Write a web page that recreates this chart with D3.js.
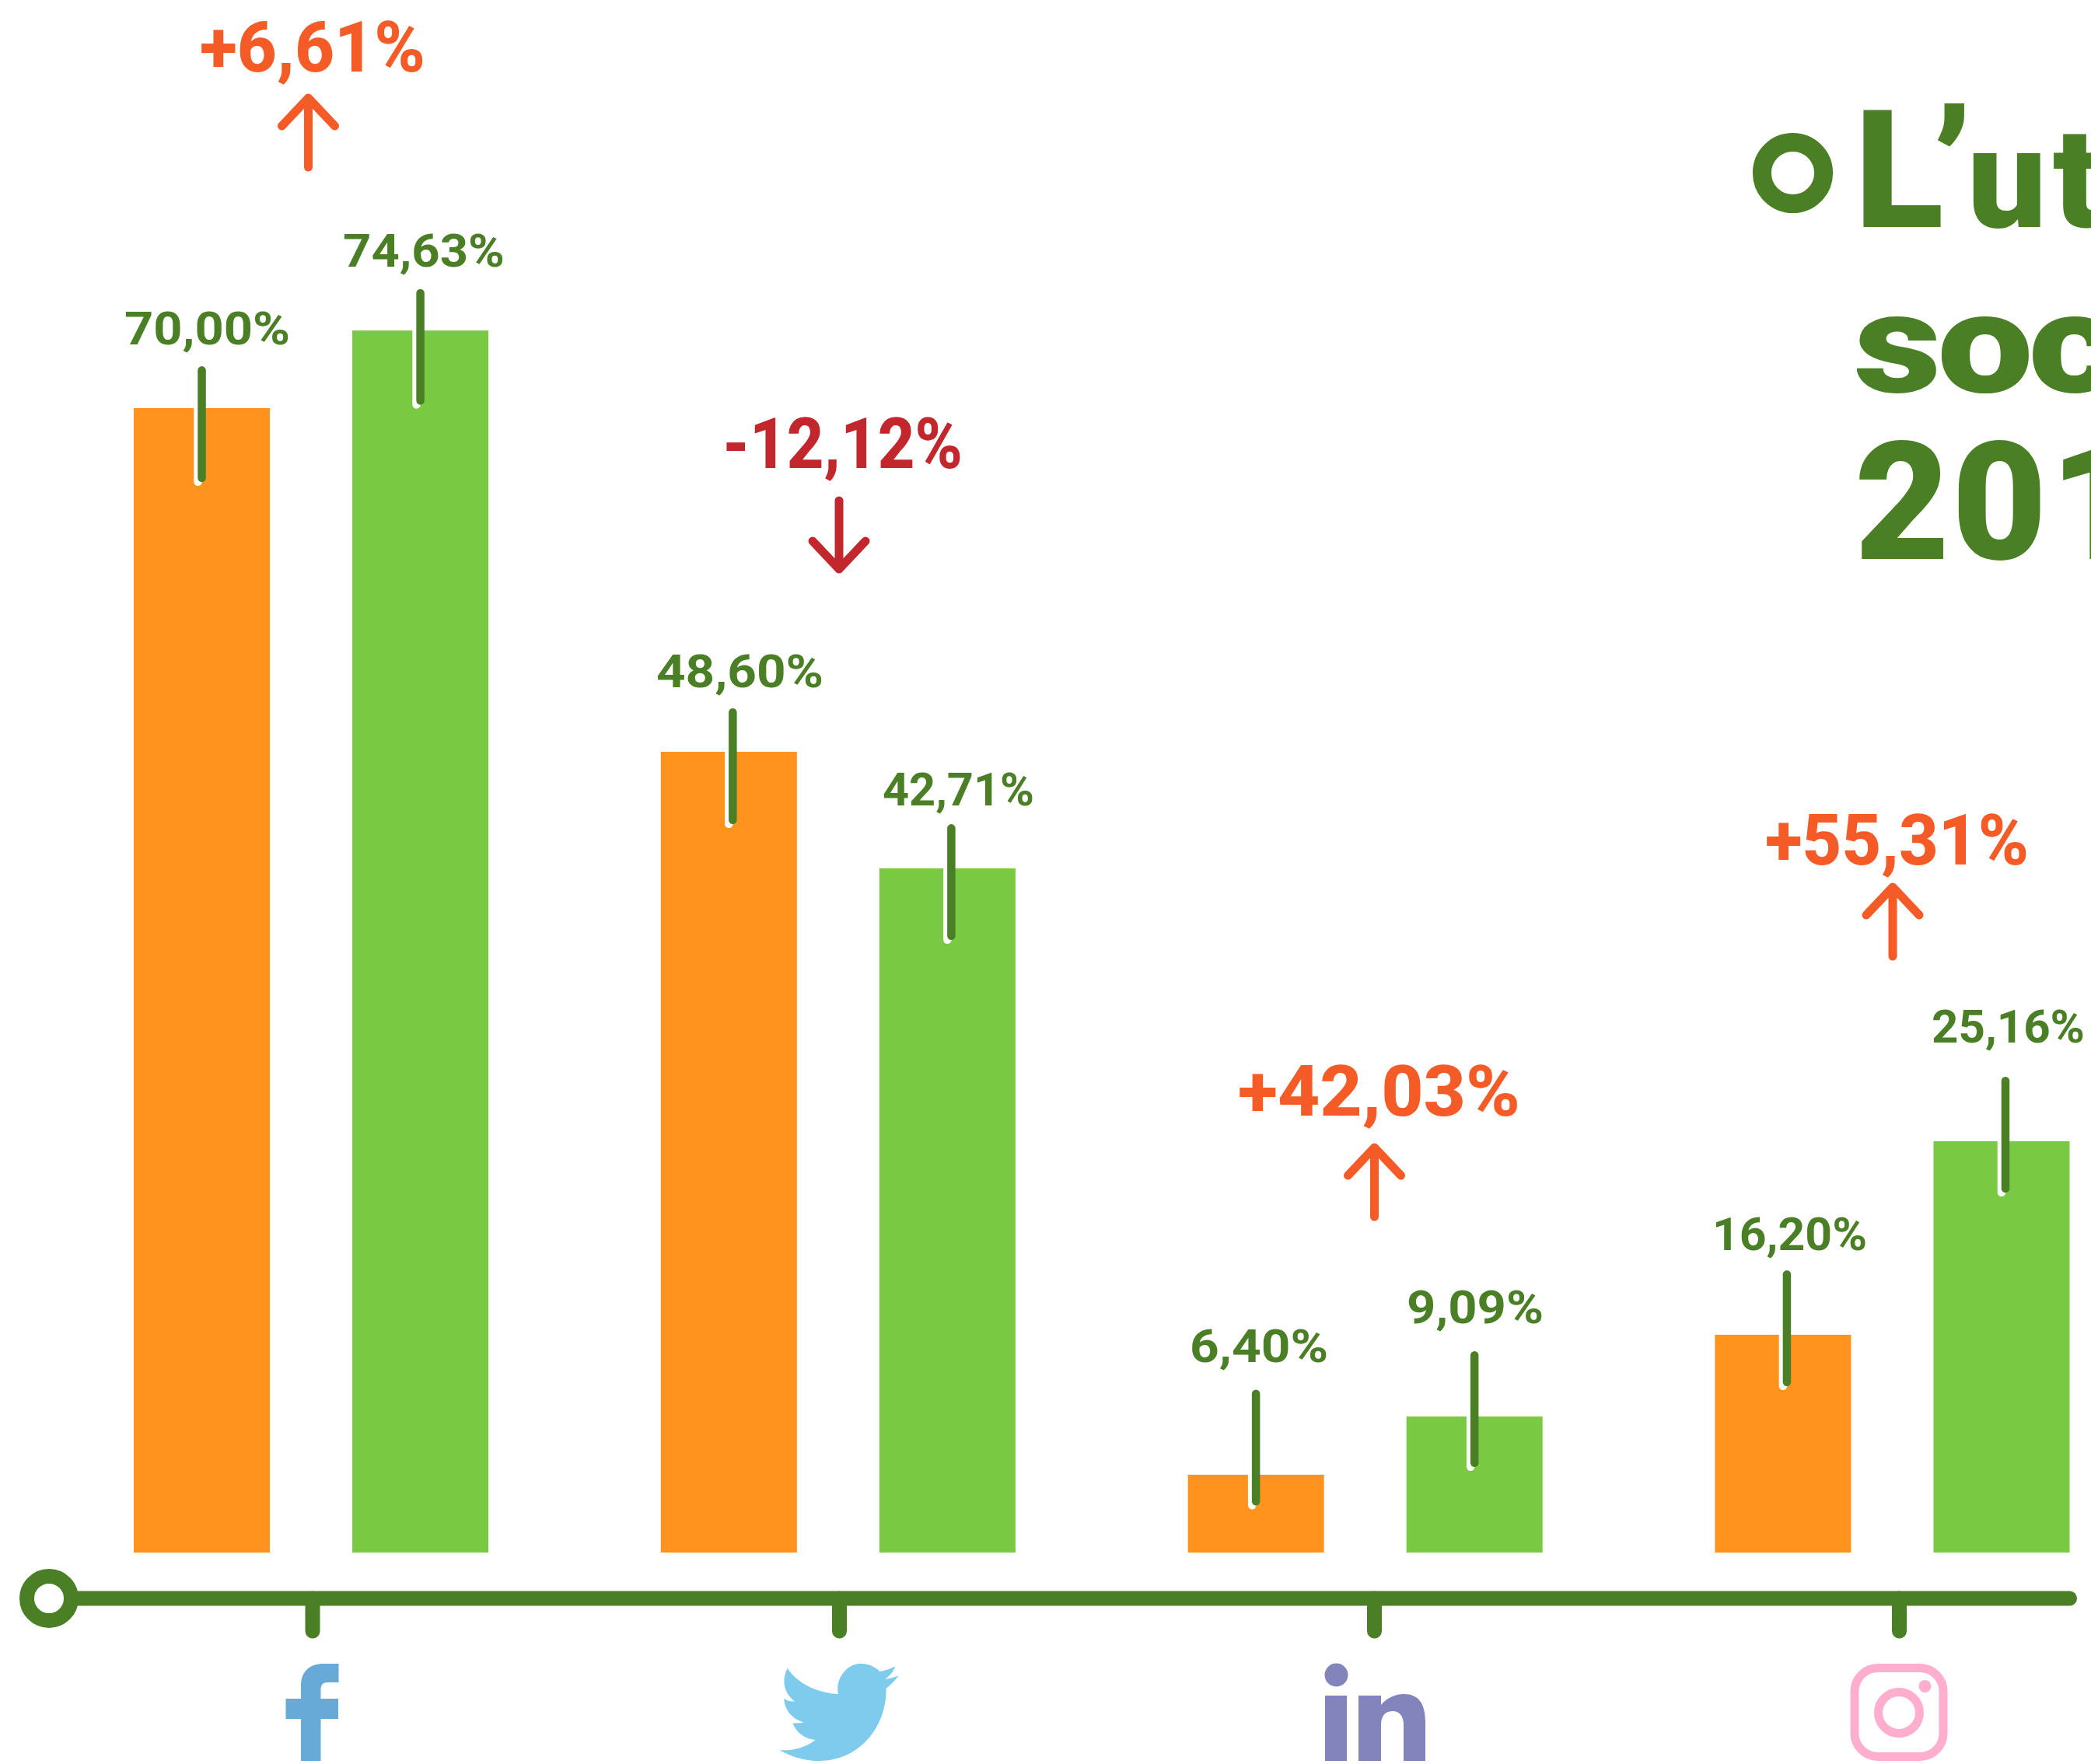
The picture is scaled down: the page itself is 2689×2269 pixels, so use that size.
<!DOCTYPE html>
<html><head><meta charset="utf-8">
<style>html,body{margin:0;padding:0;background:#fff}svg{display:block}text{font-family:Roboto,sans-serif}</style>
<script src="https://cdn.jsdelivr.net/npm/d3@7/dist/d3.min.js"></script>
</head><body><svg id="c" width="2689" height="2269"></svg>
<script>
// ---- data ----
const platforms = ["Facebook", "Twitter", "LinkedIn", "Instagram"];
const seriesNames = ["first", "second"];
// printed values
const printedFirst = [70.00, 48.60, 6.40, 16.20];
const printedSecond = [74.63, 42.71, 9.09, 25.16];
const evolution = [6.61, -12.12, 42.03, 55.31];
// bar heights as drawn in the reference, on the scale fixed by the 70% bar
// (the reference's short bars are not drawn exactly to their printed values)
const barFirst = [70.00, 48.98, 4.76, 13.32];
const barSecond = [74.75, 41.85, 8.32, 25.16];
// level of the middle of each leader line, same units
const leaderFirst = [69.02, 48.10, 6.42, 13.72];
const leaderSecond = [73.75, 41.01, 8.77, 25.56];
const titleLines = ["L’ut", "soc", "201"];

// ---- layout ----
const W = 2689, H = 2269, baseY = 1997, axisY = 2056;
const C = {axis:"#4B7F26", first:"#FF931E", second:"#7AC943", up:"#F45B27", down:"#C1272D",
           fb:"#67A9D7", tw:"#7FCBEE", li:"#8484BD", ig:"#FFAECE"};
const leaderNudge = [[0,0],[5,5],[0,0],[5,5]];
const labelBox = [[[162,371,443],[443,647,343]],[[846,1057,884],[1137,1328,1036]],
                  [[1532,1706,1752],[1811,1983,1702]],[[2204,2399,1608],[2486,2679,1341]]];
const deltaBox = [[261,543,92],[933,1234,602],[1596,1951,1435],[2274,2605,1112]];
const arrowPos = [[396.5,120],[1079,638],[1767.5,1470],[2434,1135]];
const tickX = [401.5,1079,1767,2442];

const svg = d3.select("#c");
const fr = d3.formatLocale({decimal:",",thousands:" ",grouping:[3],currency:["","€"],minus:"-"});
const pct = fr.format(".2f"), signed = fr.format("+.2f");

const y = d3.scaleLinear().domain([0,70]).range([baseY,525]);
const x0 = d3.scaleBand().domain(platforms).range([172,2661.5]).paddingInner(0.3271);
const x1 = d3.scaleBand().domain(seriesNames).range([0,x0.bandwidth()]).paddingInner(0.3772);
const tickScale = d3.scaleOrdinal().domain(platforms).range(tickX);

const rows = platforms.flatMap((p,i)=>[
  {p,i,s:0,name:seriesNames[0],bar:barFirst[i],lead:leaderFirst[i],val:printedFirst[i]},
  {p,i,s:1,name:seriesNames[1],bar:barSecond[i],lead:leaderSecond[i],val:printedSecond[i]}]);

// bars
svg.append("g").selectAll("rect").data(rows).join("rect")
  .attr("x",d=>x0(d.p)+x1(d.name)).attr("width",x1.bandwidth())
  .attr("y",d=>y(d.bar)).attr("height",d=>baseY-y(d.bar))
  .attr("fill",d=>d.s?C.second:C.first);

// leader lines with their white offset twin
const LEN = 138.5;
const cx = d=>x0(d.p)+x1(d.name)+x1.bandwidth()/2+leaderNudge[d.i][d.s];
svg.append("g").selectAll("line").data(rows).join("line")
  .attr("x1",d=>cx(d)-5).attr("x2",d=>cx(d)-5)
  .attr("y1",d=>y(d.lead)-LEN/2+5).attr("y2",d=>y(d.lead)+LEN/2+5)
  .attr("stroke","#fff").attr("stroke-width",10.5).attr("stroke-linecap","round");
svg.append("g").selectAll("line").data(rows).join("line")
  .attr("x1",cx).attr("x2",cx)
  .attr("y1",d=>y(d.lead)-LEN/2).attr("y2",d=>y(d.lead)+LEN/2)
  .attr("stroke",C.axis).attr("stroke-width",10.5).attr("stroke-linecap","round");

// value labels
svg.append("g").selectAll("text").data(rows).join("text")
  .text(d=>pct(d.val)+"%")
  .attr("x",d=>labelBox[d.i][d.s][0]-2).attr("y",d=>labelBox[d.i][d.s][2])
  .attr("textLength",d=>labelBox[d.i][d.s][1]-labelBox[d.i][d.s][0]+4)
  .attr("lengthAdjust","spacingAndGlyphs")
  .attr("font-size",59).attr("font-weight",700).attr("fill",C.axis);

// evolution labels and arrows
svg.append("g").selectAll("text").data(evolution).join("text")
  .text(d=>signed(d)+"%")
  .attr("x",(d,i)=>deltaBox[i][0]-4).attr("y",(d,i)=>deltaBox[i][2])
  .attr("textLength",(d,i)=>deltaBox[i][1]-deltaBox[i][0]+8)
  .attr("lengthAdjust","spacingAndGlyphs")
  .attr("font-size",90).attr("font-weight",800)
  .attr("fill",d=>d<0?C.down:C.up);
const arrowUp = "M0,6V95M-34,42L0,6L34,42";
const arrowDown = "M0,6V94M-34,58L0,94L34,58";
svg.append("g").selectAll("path").data(evolution).join("path")
  .attr("d",d=>d<0?arrowDown:arrowUp)
  .attr("transform",(d,i)=>`translate(${arrowPos[i][0]},${arrowPos[i][1]})`)
  .attr("fill","none").attr("stroke",d=>d<0?C.down:C.up)
  .attr("stroke-width",11).attr("stroke-linecap","round").attr("stroke-linejoin","round");

// axis
svg.append("line").attr("x1",62).attr("x2",2661.5).attr("y1",axisY).attr("y2",axisY)
  .attr("stroke",C.axis).attr("stroke-width",19).attr("stroke-linecap","round");
const axisG = svg.append("g").attr("transform",`translate(0,${axisY})`)
  .call(d3.axisBottom(tickScale).tickSize(42).tickFormat(""));
axisG.select(".domain").remove();
axisG.selectAll("line").attr("stroke",C.axis).attr("stroke-width",19).attr("stroke-linecap","round");
svg.append("circle").attr("cx",63).attr("cy",axisY).attr("r",28.5)
  .attr("fill","#fff").attr("stroke",C.axis).attr("stroke-width",19);

// icons, origin = tick x, top of the icon row
const iconG = svg.append("g").selectAll("g").data(platforms).join("g")
  .attr("transform",p=>`translate(${tickScale(p)},2140)`);
iconG.filter(p=>p==="Facebook").append("path").attr("fill",C.fb)
  .attr("d","M-14.5,125V71H-34V45H-14.5V28C-14.5,10-3,0,15,0H34V24H20C13,24,11,28,11,34V45H33.5V71H11V125Z");
iconG.filter(p=>p==="Twitter").append("path").attr("fill",C.tw)
  .attr("transform","translate(-88.7,-10) scale(0.3333)")
  .attr("d","M483,40C465,50,445,57,423,60C405,40,375,28,345,30C295,32,250,90,263,148C180,140,110,110,67,48C45,90,50,140,95,176C80,176,65,172,54,164C54,205,85,245,130,256C115,260,100,260,87,259C100,295,135,322,175,324C140,352,90,368,37,363C85,392,140,405,190,405C340,405,450,280,448,125C465,112,482,96,496,76C478,84,460,88,443,90C462,78,477,60,483,40Z");
const li = iconG.filter(p=>p==="LinkedIn").append("g").attr("fill",C.li);
li.append("circle").attr("cx",-48.5).attr("cy",14.5).attr("r",15);
li.append("path").attr("d","M-63,41H-35V125H-63Z");
li.append("path").attr("d","M-20,125V41H9V53C15,45,27,39,38,39C58,39,66,52,66,75V125H38V78C38,68,33,61,24,61C14,61,9,68,9,78V125Z");
const ig = iconG.filter(p=>p==="Instagram").append("g");
ig.append("rect").attr("x",-57).attr("y",5.5).attr("width",114).attr("height",114).attr("rx",30)
  .attr("fill","none").attr("stroke",C.ig).attr("stroke-width",11);
ig.append("circle").attr("cx",0).attr("cy",63).attr("r",26.5)
  .attr("fill","none").attr("stroke",C.ig).attr("stroke-width",11);
ig.append("circle").attr("cx",33.5).attr("cy",29).attr("r",8).attr("fill",C.ig);

// title (runs off the right edge in the reference)
svg.append("circle").attr("cx",2305.5).attr("cy",222.5).attr("r",39.6)
  .attr("fill","none").attr("stroke",C.axis).attr("stroke-width",24);
const titleOrigin = [2385,2384,2385];
const titleStretch = [1,1.22,1];
const titleX = [[0,100,145,255],[0,88,184],[0,125,251]];
const titleSize = [[211,211,180,180],[180,180,180],[211,211,211]];
const titleY = [292,504,719];
svg.append("g").selectAll("text").data(titleLines).join("text")
  .attr("transform",(d,i)=>`translate(${titleOrigin[i]},${titleY[i]}) scale(${titleStretch[i]},1)`)
  .attr("font-weight",900).attr("fill",C.axis)
  .each(function(line,i){
    d3.select(this).selectAll("tspan").data(Array.from(line)).join("tspan")
      .text(c=>c).attr("x",(c,j)=>titleX[i][j]).attr("font-size",(c,j)=>titleSize[i][j]);
  });
</script></body></html>
